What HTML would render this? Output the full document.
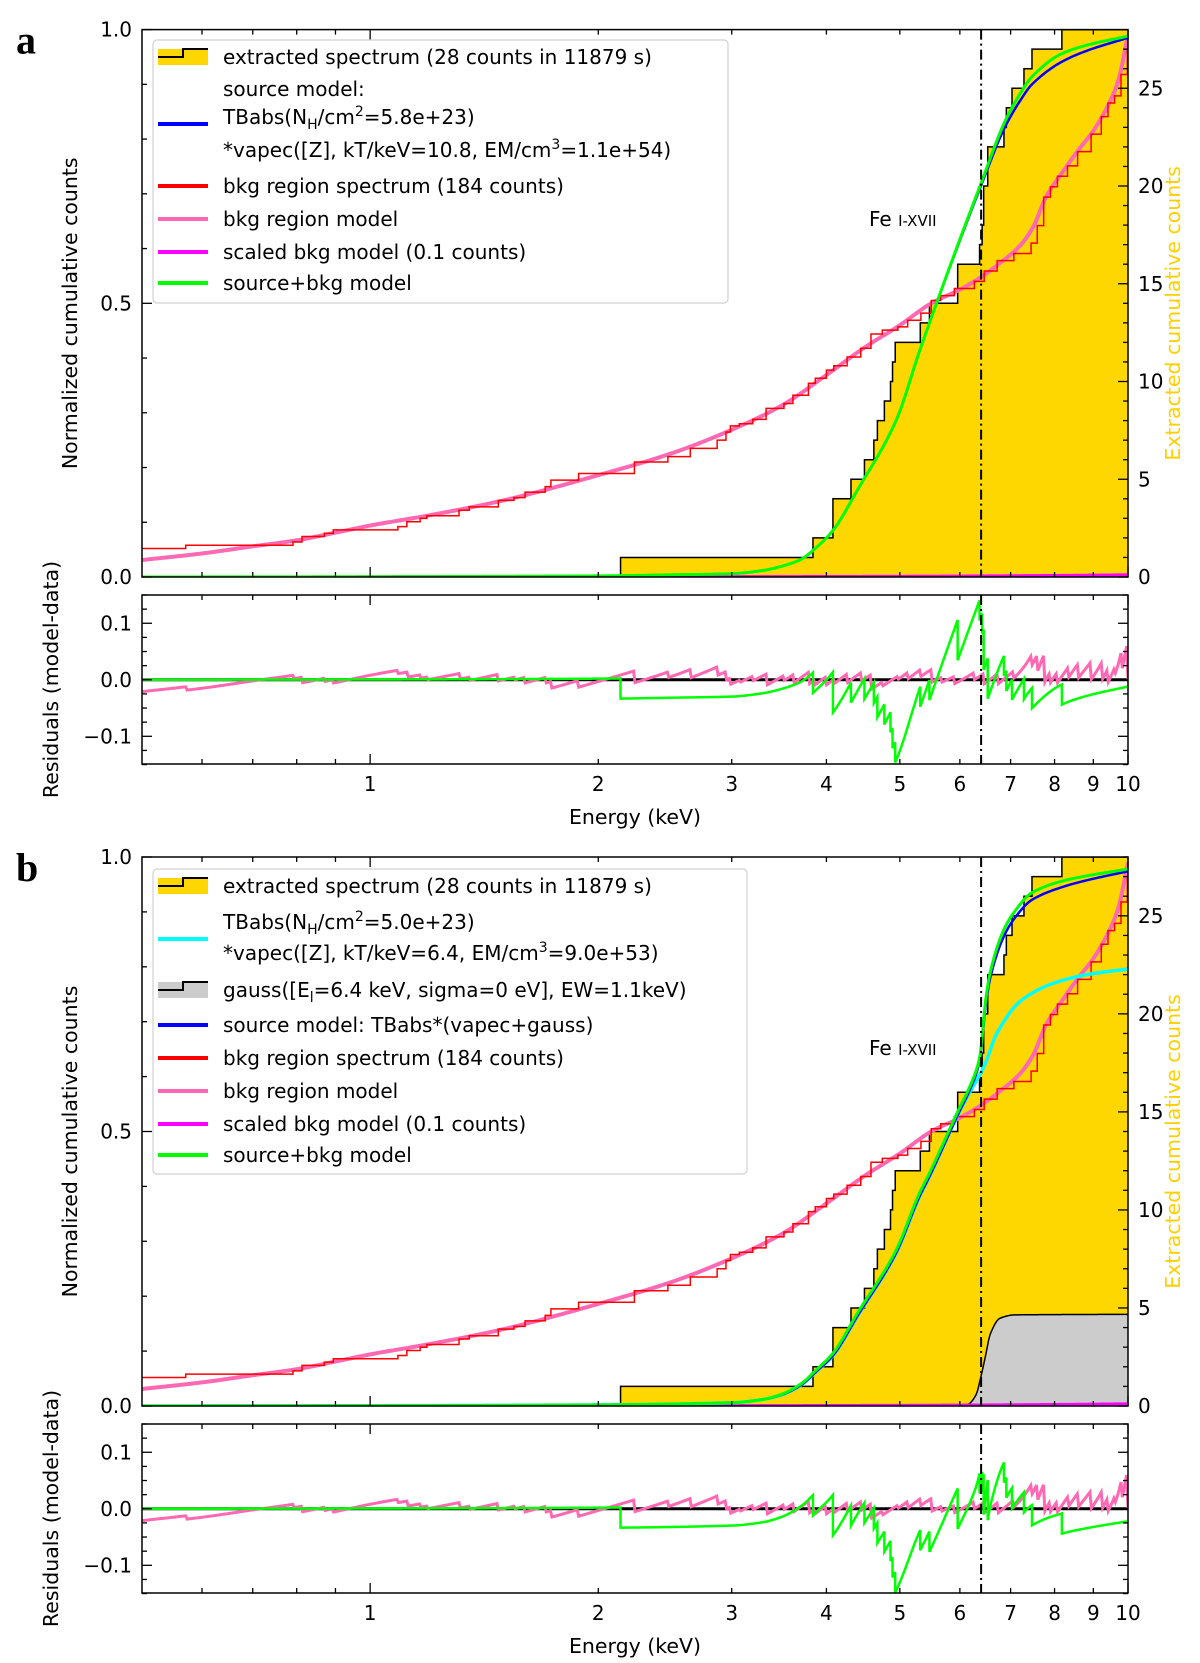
<!DOCTYPE html>
<html><head><meta charset="utf-8">
<style>
html,body{margin:0;padding:0;background:#fff;}
svg{display:block;font-family:"DejaVu Sans","Liberation Sans",sans-serif;}
</style></head>
<body>
<svg id="fig" width="1200" height="1663" viewBox="0 0 1200 1663" xmlns="http://www.w3.org/2000/svg"></svg>
<script>
// ---------- data ----------
const eventEnergies = [2.14,3.84,4.08,4.08,4.31,4.49,4.62,4.67,4.77,4.86,4.89,4.93,5.32,5.47,5.96,5.96,6.37,6.42,6.45,6.45,6.53,6.53,6.86,6.91,7.03,7.29,7.47,8.18];
const totalCounts = 28;
const bkgStepE = [0.5,0.571,0.791,0.813,0.87,0.894,1.088,1.118,1.164,1.188,1.31,1.351,1.476,1.548,1.601,1.702,1.732,1.884,2.232,2.471,2.645,2.87,2.948,2.988,3.07,3.198,3.33,3.516,3.613,3.787,3.867,4.0,4.09,4.26,4.44,4.58,4.74,4.97,5.12,5.33,5.5,5.66,5.9,6.27,6.46,6.72,7.07,7.45,7.59,7.74,7.9,8.07,8.32,8.58,8.94,9.22,9.41,9.6,9.79,9.98,10];
const bkgStepV = [0.052,0.058,0.064,0.074,0.08,0.086,0.092,0.101,0.107,0.112,0.122,0.128,0.14,0.145,0.155,0.165,0.177,0.189,0.21,0.22,0.235,0.25,0.265,0.276,0.28,0.288,0.308,0.317,0.332,0.354,0.363,0.378,0.386,0.402,0.418,0.444,0.451,0.457,0.469,0.482,0.505,0.514,0.527,0.54,0.559,0.578,0.591,0.61,0.642,0.694,0.713,0.732,0.751,0.777,0.809,0.841,0.866,0.879,0.918,0.963,0.99];
const bkgModelE = [0.5,0.6,0.7,0.8,0.9,1.0,1.2,1.5,2.0,2.5,3.0,3.5,4.0,4.5,5.0,5.5,6.0,6.4,6.8,7.2,7.5,7.8,8.2,8.6,9.0,9.4,9.7,10.0];
const bkgModelV = [0.031,0.043,0.056,0.067,0.081,0.094,0.113,0.14,0.186,0.226,0.269,0.314,0.369,0.42,0.46,0.5,0.525,0.548,0.575,0.605,0.64,0.695,0.74,0.78,0.815,0.86,0.905,0.99];
const scaledBkgE = [0.5,2,5,8,10];
const scaledBkgV = [0,0.0003,0.0012,0.0028,0.004];
// panel a models
const modelAE = [0.5,1,2,2.5,3,3.3,3.5,3.7,3.88,4.08,4.4,4.94,5.3,5.47,5.96,6.37,6.87,7.22,7.47,8.15,8.85,10];
const greenAV = [0,0.0005,0.002,0.004,0.006,0.012,0.02,0.032,0.054,0.085,0.16,0.285,0.41,0.464,0.606,0.712,0.83,0.885,0.914,0.955,0.972,0.988];
const blueAV  = [0,0.0005,0.002,0.004,0.006,0.012,0.02,0.032,0.054,0.085,0.16,0.285,0.41,0.464,0.604,0.708,0.82,0.872,0.9,0.94,0.962,0.985];
// panel b models
const modelBE = [0.5,1,2,3,3.3,3.5,3.7,3.88,4.08,4.4,4.94,5.3,5.47,5.96,6.22,6.37,6.49,6.58,6.84,7.08,7.47,8.18,8.85,10];
const greenBV = [0,0.0005,0.002,0.006,0.012,0.022,0.04,0.066,0.096,0.17,0.283,0.386,0.424,0.536,0.59,0.634,0.74,0.79,0.864,0.9,0.935,0.956,0.966,0.978];
const blueBV  = [0,0.0005,0.002,0.006,0.012,0.021,0.038,0.063,0.092,0.165,0.278,0.38,0.418,0.53,0.584,0.628,0.73,0.78,0.852,0.888,0.922,0.945,0.958,0.974];
const cyanBE = [0.5,1,2,3,3.3,3.5,3.7,3.88,4.08,4.4,4.94,5.3,5.47,5.96,6.22,6.45,6.72,7.22,7.97,8.85,10];
const cyanBV = [0,0.0005,0.002,0.006,0.012,0.021,0.038,0.063,0.092,0.165,0.278,0.38,0.418,0.53,0.578,0.617,0.68,0.738,0.77,0.786,0.796];
const gaussBE = [0.5,6.0,6.15,6.3,6.4,6.49,6.58,6.78,7.1,10];
const gaussBV = [0,0,0.003,0.02,0.055,0.093,0.131,0.16,0.166,0.167];
const xMajor = [1,10];
const xMinor = [0.6,0.7,0.8,0.9,2,3,4,5,6,7,8,9];
const xLabels = [1,2,3,4,5,6,7,8,9,10];
const leftTickLabels = [0,0.5,1];
const rightTickLabels = [0,5,10,15,20,25];
const residTickLabels = [-0.1,0,0.1];
const feLineE = 6.4;

// ---------- helpers ----------
const NS='http://www.w3.org/2000/svg';
const svg=document.getElementById('fig');
function el(tag,attrs,parent){const e=document.createElementNS(NS,tag);for(const k in attrs)e.setAttribute(k,attrs[k]);(parent||svg).appendChild(e);return e;}
function mono(X,Y){
  const n=X.length, lx=X.map(Math.log10), d=[], m=new Array(n);
  for(let i=0;i<n-1;i++)d.push((Y[i+1]-Y[i])/(lx[i+1]-lx[i]));
  m[0]=d[0];m[n-1]=d[n-2];
  for(let i=1;i<n-1;i++){ if(d[i-1]*d[i]<=0)m[i]=0; else m[i]=2/(1/d[i-1]+1/d[i]); }
  return function(E){const t0=Math.log10(E);
    if(t0<=lx[0])return Y[0]; if(t0>=lx[n-1])return Y[n-1];
    let i=0;while(lx[i+1]<t0)i++;
    const h=lx[i+1]-lx[i],t=(t0-lx[i])/h,t2=t*t,t3=t2*t;
    return (2*t3-3*t2+1)*Y[i]+(t3-2*t2+t)*h*m[i]+(-2*t3+3*t2)*Y[i+1]+(t3-t2)*h*m[i+1];};
}
function stepVal(E){let c=0;for(const e of eventEnergies)if(e<=E)c++;return c/totalCounts;}
function bkgVal(E){let v=bkgStepV[0];for(let i=0;i<bkgStepE.length;i++)if(bkgStepE[i]<=E)v=bkgStepV[i];return v;}
const X0=142,X1=1128,LE0=Math.log10(0.5),LE1=1;
function xs(E){return X0+(Math.log10(E)-LE0)/(LE1-LE0)*(X1-X0);}
const sampleE=[];for(let i=0;i<=700;i++)sampleE.push(Math.pow(10,LE0+(LE1-LE0)*i/700));

function panel(P){
  const ys=v=>P.bot-v*(P.bot-P.top);
  const yr=v=>P.rtop+(0.15-v)/0.299*(P.rbot-P.rtop);
  const g=el('g',{});
  
  
  const clip=el('clipPath',{id:'c'+P.name},g);
  el('rect',{x:X0,y:P.top,width:X1-X0,height:P.bot-P.top},clip);
  const clip2=el('clipPath',{id:'r'+P.name},g);
  el('rect',{x:X0,y:P.rtop,width:X1-X0,height:P.rbot-P.rtop},clip2);
  const mg=el('g',{'clip-path':'url(#c'+P.name+')'},g);
  let d='M'+xs(0.5)+' '+ys(0);let c=0;
  for(const e of eventEnergies){d+=' H'+xs(e).toFixed(2);c++;d+=' V'+ys(c/totalCounts).toFixed(2);}
  d+=' H'+xs(10);
  const fill=el('path',{d:d+' V'+ys(0)+' Z',fill:'#ffd700',stroke:'none'},mg);
  
  
  const sl=el('path',{d:d,fill:'none',stroke:'#000','stroke-width':1.5},mg);
  
  
  function curve(E,V,name,color,w){
    const f=mono(E,V);let p='';
    sampleE.forEach((e,i)=>{p+=(i?' L':'M')+xs(e).toFixed(2)+' '+ys(f(e)).toFixed(2);});
    const a=el('path',{d:p,fill:'none',stroke:color,'stroke-width':w},mg);
    
    
  }
  if(P.gauss){
    const f=mono(gaussBE,gaussBV);let p='';
    sampleE.forEach((e,i)=>{p+=(i?' L':'M')+xs(e).toFixed(2)+' '+ys(f(e)).toFixed(2);});
    const ga=el('path',{d:p+' L'+xs(10)+' '+ys(0)+' L'+xs(0.5)+' '+ys(0)+' Z',fill:'#cccccc',stroke:'none'},mg);
    
    
    const gl=el('path',{d:p,fill:'none',stroke:'#000','stroke-width':1.5},mg);
    
    
  }
  curve(bkgModelE,bkgModelV,'bkg-region-model','#ff69b4',4);
  let rd='M'+xs(bkgStepE[0])+' '+ys(bkgStepV[0]);
  for(let i=1;i<bkgStepE.length;i++){rd+=' H'+xs(bkgStepE[i]).toFixed(2)+' V'+ys(bkgStepV[i]).toFixed(2);}
  const rl=el('path',{d:rd,fill:'none',stroke:'#ff0000','stroke-width':1.5},mg);
  
  
  curve(scaledBkgE,scaledBkgV,'scaled-bkg-model','#ff00ff',3);
  if(P.cyanV)curve(P.cyanE,P.cyanV,'vapec-model','#00ffff',3.5);
  curve(P.modelE,P.blueV,'source-model','#0000ff',2.5);
  curve(P.modelE,P.greenV,'source-bkg-model','#00ff00',3);
  const vl=el('line',{x1:xs(feLineE),x2:xs(feLineE),y1:P.top,y2:P.bot,stroke:'#000','stroke-width':2,'stroke-dasharray':'10,4,2,4'},g);
  
  
  const fe=el('text',{x:869,y:P.feY,'font-size':20,fill:'#000'},g);
  fe.innerHTML='Fe <tspan font-size="15">I-XVII</tspan>';
  
  
  const fr=el('rect',{x:X0,y:P.top,width:X1-X0,height:P.bot-P.top,fill:'none',stroke:'#000','stroke-width':1.5},g);
  
  
  function xt(yTop,yBot){
    xMajor.concat(xMinor).forEach(E=>{const L=xMajor.includes(E)?10:5;const x=xs(E);
      el('line',{x1:x,x2:x,y1:yBot,y2:yBot-L,stroke:'#000','stroke-width':1.3},g);
      el('line',{x1:x,x2:x,y1:yTop,y2:yTop+L,stroke:'#000','stroke-width':1.3},g);});
  }
  xt(P.top,P.bot);xt(P.rtop,P.rbot);
  for(let i=0;i<=10;i++){const v=i/10,L=(i%5==0)?10:5,y=ys(v);el('line',{x1:X0,x2:X0+L,y1:y,y2:y,stroke:'#000','stroke-width':1.3},g);}
  leftTickLabels.forEach(v=>{const t=el('text',{x:132,y:ys(v)+7,'text-anchor':'end','font-size':20},g);t.textContent=v.toFixed(1);
    
    });
  for(let k=0;k<=28;k++){const y=ys(k/totalCounts),L=(k%5==0)?10:5;el('line',{x1:X1,x2:X1-L,y1:y,y2:y,stroke:'#000','stroke-width':1.3},g);}
  rightTickLabels.forEach(k=>{const t=el('text',{x:1138,y:ys(k/totalCounts)+7,'font-size':20},g);t.textContent=k;
    
    });
  const yl=el('text',{x:0,y:0,'font-size':20.5,'text-anchor':'middle',transform:'translate(77,'+((P.top+P.bot)/2+10)+') rotate(-90)'},g);
  yl.textContent='Normalized cumulative counts';
  
  
  const yr2=el('text',{x:0,y:0,'font-size':20.5,'text-anchor':'middle',fill:'#ffd000',transform:'translate(1180,'+((P.top+P.bot)/2+10)+') rotate(-90)'},g);
  yr2.textContent='Extracted cumulative counts';
  
  
  const rg=el('g',{'clip-path':'url(#r'+P.name+')'},g);
  el('line',{x1:X0,x2:X1,y1:yr(0),y2:yr(0),stroke:'#000','stroke-width':3},rg);
  const fb=mono(bkgModelE,bkgModelV), fgm=mono(P.modelE,P.greenV);
  let pp='',gp='';
  sampleE.forEach((e,i)=>{pp+=(i?' L':'M')+xs(e).toFixed(2)+' '+yr(fb(e)-bkgVal(e)).toFixed(2);});
  const rsE=sampleE.concat(eventEnergies.map(e=>e-0.0005),eventEnergies).sort((a,b)=>a-b).filter(e=>e>=0.5&&e<=10);
  rsE.forEach((e,i)=>{gp+=(i?' L':'M')+xs(e).toFixed(2)+' '+yr(fgm(e)-stepVal(e)).toFixed(2);});
  const pr=el('path',{d:pp,fill:'none',stroke:'#ff69b4','stroke-width':3},rg);
  
  
  const gr=el('path',{d:gp,fill:'none',stroke:'#00ff00','stroke-width':2.5},rg);
  
  
  el('line',{x1:xs(feLineE),x2:xs(feLineE),y1:P.rtop,y2:P.rbot,stroke:'#000','stroke-width':2,'stroke-dasharray':'10,4,2,4'},g);
  const rf=el('rect',{x:X0,y:P.rtop,width:X1-X0,height:P.rbot-P.rtop,fill:'none',stroke:'#000','stroke-width':1.5},g);
  
  
  for(let i=-6;i<=6;i++){const v=i*0.025,y=yr(v),L=(i%4==0)?10:5;
    el('line',{x1:X0,x2:X0+L,y1:y,y2:y,stroke:'#000','stroke-width':1.3},g);
    el('line',{x1:X1,x2:X1-L,y1:y,y2:y,stroke:'#000','stroke-width':1.3},g);}
  residTickLabels.forEach(v=>{const t=el('text',{x:132,y:yr(v)+7,'text-anchor':'end','font-size':20},g);t.textContent=(v<0?'\u2212':'')+Math.abs(v).toFixed(1);
    
    });
  const rl2=el('text',{x:0,y:0,'font-size':20.5,'text-anchor':'middle',transform:'translate(58,'+((P.rtop+P.rbot)/2)+') rotate(-90)'},g);
  rl2.textContent='Residuals (model-data)';
  
  
  xLabels.forEach(E=>{const t=el('text',{x:xs(E),y:P.rbot+27,'text-anchor':'middle','font-size':20},g);t.textContent=E;
    
    });
  const xl=el('text',{x:635,y:P.rbot+60,'text-anchor':'middle','font-size':20.5},g);
  xl.textContent='Energy (keV)';
  
  
  const pl=el('text',{x:16,y:P.top+24,'font-size':40,'font-weight':'bold','font-family':'"Liberation Serif",serif'},g);
  pl.textContent=P.letter;
  
  
  const lg=el('g',{},g);
  
  
  el('rect',{x:153,y:P.leg.y,width:P.leg.w,height:P.leg.h,rx:4,fill:'#fff','fill-opacity':0.85,stroke:'#d0d0d0','stroke-width':1.2},lg);
  P.entries.forEach(en=>{
    if(en.h==='patch'||en.h==='gpatch'){
      el('rect',{x:158,y:en.hy-8,width:50,height:16,fill:en.h==='patch'?'#ffd700':'#cccccc'},lg);
      el('path',{d:'M158 '+(en.hy)+' H183 V'+(en.hy-8)+' H208',fill:'none',stroke:'#000','stroke-width':2},lg);
    }else if(en.h){el('line',{x1:158,x2:208,y1:en.hy,y2:en.hy,stroke:en.h,'stroke-width':4},lg);}
    const t=el('text',{x:223,y:en.y+7,'font-size':20},lg);t.innerHTML=en.t;
    
    
  });
}
const sub=s=>'<tspan font-size="14" baseline-shift="-5">'+s+'</tspan>';
const sup=s=>'<tspan font-size="14" baseline-shift="8">'+s+'</tspan>';
panel({name:'panel-a',letter:'a',top:29.6,bot:577,rtop:595,rbot:764,feY:226,
  modelE:modelAE,greenV:greenAV,blueV:blueAV,
  leg:{y:40,w:575,h:263},
  entries:[
   {t:'extracted spectrum (28 counts in 11879 s)',y:57,h:'patch',hy:57},
   {t:'source model:',y:89},
   {t:'TBabs(N'+sub('H')+'/cm'+sup('2')+'=5.8e+23)',y:117,h:'#0000ff',hy:124},
   {t:'*vapec([Z], kT/keV=10.8, EM/cm'+sup('3')+'=1.1e+54)',y:150},
   {t:'bkg region spectrum (184 counts)',y:186,h:'#ff0000',hy:186},
   {t:'bkg region model',y:219,h:'#ff69b4',hy:219},
   {t:'scaled bkg model (0.1 counts)',y:252,h:'#ff00ff',hy:252},
   {t:'source+bkg model',y:283,h:'#00ff00',hy:283}]});
panel({name:'panel-b',letter:'b',top:857,bot:1406,rtop:1424,rbot:1593,feY:1055,
  modelE:modelBE,greenV:greenBV,blueV:blueBV,cyanE:cyanBE,cyanV:cyanBV,gauss:true,
  leg:{y:869,w:594,h:305},
  entries:[
   {t:'extracted spectrum (28 counts in 11879 s)',y:886,h:'patch',hy:886},
   {t:'TBabs(N'+sub('H')+'/cm'+sup('2')+'=5.0e+23)',y:922,h:'#00ffff',hy:939},
   {t:'*vapec([Z], kT/keV=6.4, EM/cm'+sup('3')+'=9.0e+53)',y:953},
   {t:'gauss([E'+sub('l')+'=6.4 keV, sigma=0 eV], EW=1.1keV)',y:990,h:'gpatch',hy:990},
   {t:'source model: TBabs*(vapec+gauss)',y:1025,h:'#0000ff',hy:1025},
   {t:'bkg region spectrum (184 counts)',y:1058,h:'#ff0000',hy:1058},
   {t:'bkg region model',y:1091,h:'#ff69b4',hy:1091},
   {t:'scaled bkg model (0.1 counts)',y:1124,h:'#ff00ff',hy:1124},
   {t:'source+bkg model',y:1155,h:'#00ff00',hy:1155}]});
</script>
</body></html>
